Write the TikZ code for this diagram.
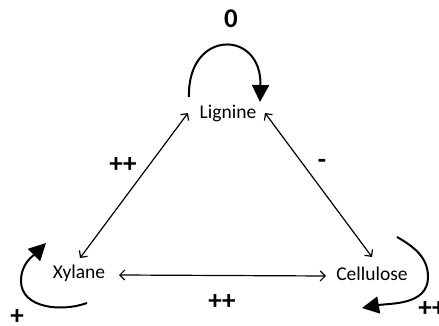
\documentclass[tikz,border=0pt]{standalone}
\usepackage{fontspec}
\setmainfont{Carlito}
\usetikzlibrary{arrows.meta,calc}
\begin{document}
\begin{tikzpicture}[x=1pt,y=1pt,
  species/.style={inner sep=0pt,font=\fontsize{19.5}{22}\selectfont},
  sign/.style={inner sep=0pt,font=\fontsize{27}{30}\selectfont\bfseries},
  link/.style={line width=1.2pt,{Straight Barb[length=5pt,width=10pt]}-{Straight Barb[length=5pt,width=10pt]}},
  selfloop/.style={line width=2pt,-{Triangle[length=17pt,width=17pt]}}]
\useasboundingbox (0,0) rectangle (439,326);
\node[species] (L) at (228,213) {Lignine};
\node[species] (X) at (79,53) {Xylane};
\node[species] (C) at (372,52) {Cellulose};
% connectors
\draw[link] ($(X)+(1,15)$) -- ($(L)+(-40,0)$);
\draw[link] ($(L)+(37,0)$) -- ($(C)+(0,17)$);
\draw[link] ($(X)+(40,-2)$) -- ($(C)+(-46,-2)$);
% self loops
\draw[selfloop] ($(L)+(-39,16)$) .. controls ($(L)+(-41,84)$) and ($(L)+(34,84)$) .. ($(L)+(32,11)$);
\draw[selfloop] ($(X)+(8,-30)$) to[out=200,in=270] ($(X)+(-58,-8)$) to[out=90,in=225] ($(X)+(-33,30)$);
\draw[selfloop] ($(C)+(25,37)$) to[out=-30,in=90] ($(C)+(56,-3)$) to[out=270,in=10] ($(C)+(-10,-34)$);
% labels
\node[sign] (s0) at (231,307) {0};
\node[sign] (s1) at (123,161) {++};
\node[sign] (s2) at (322,162) {-};
\node[sign] (s3) at (222,24) {++};
\node[sign] (s4) at (17,9) {+};
\node[sign] (s5) at (432,17) {++};
\end{tikzpicture}
\end{document}
